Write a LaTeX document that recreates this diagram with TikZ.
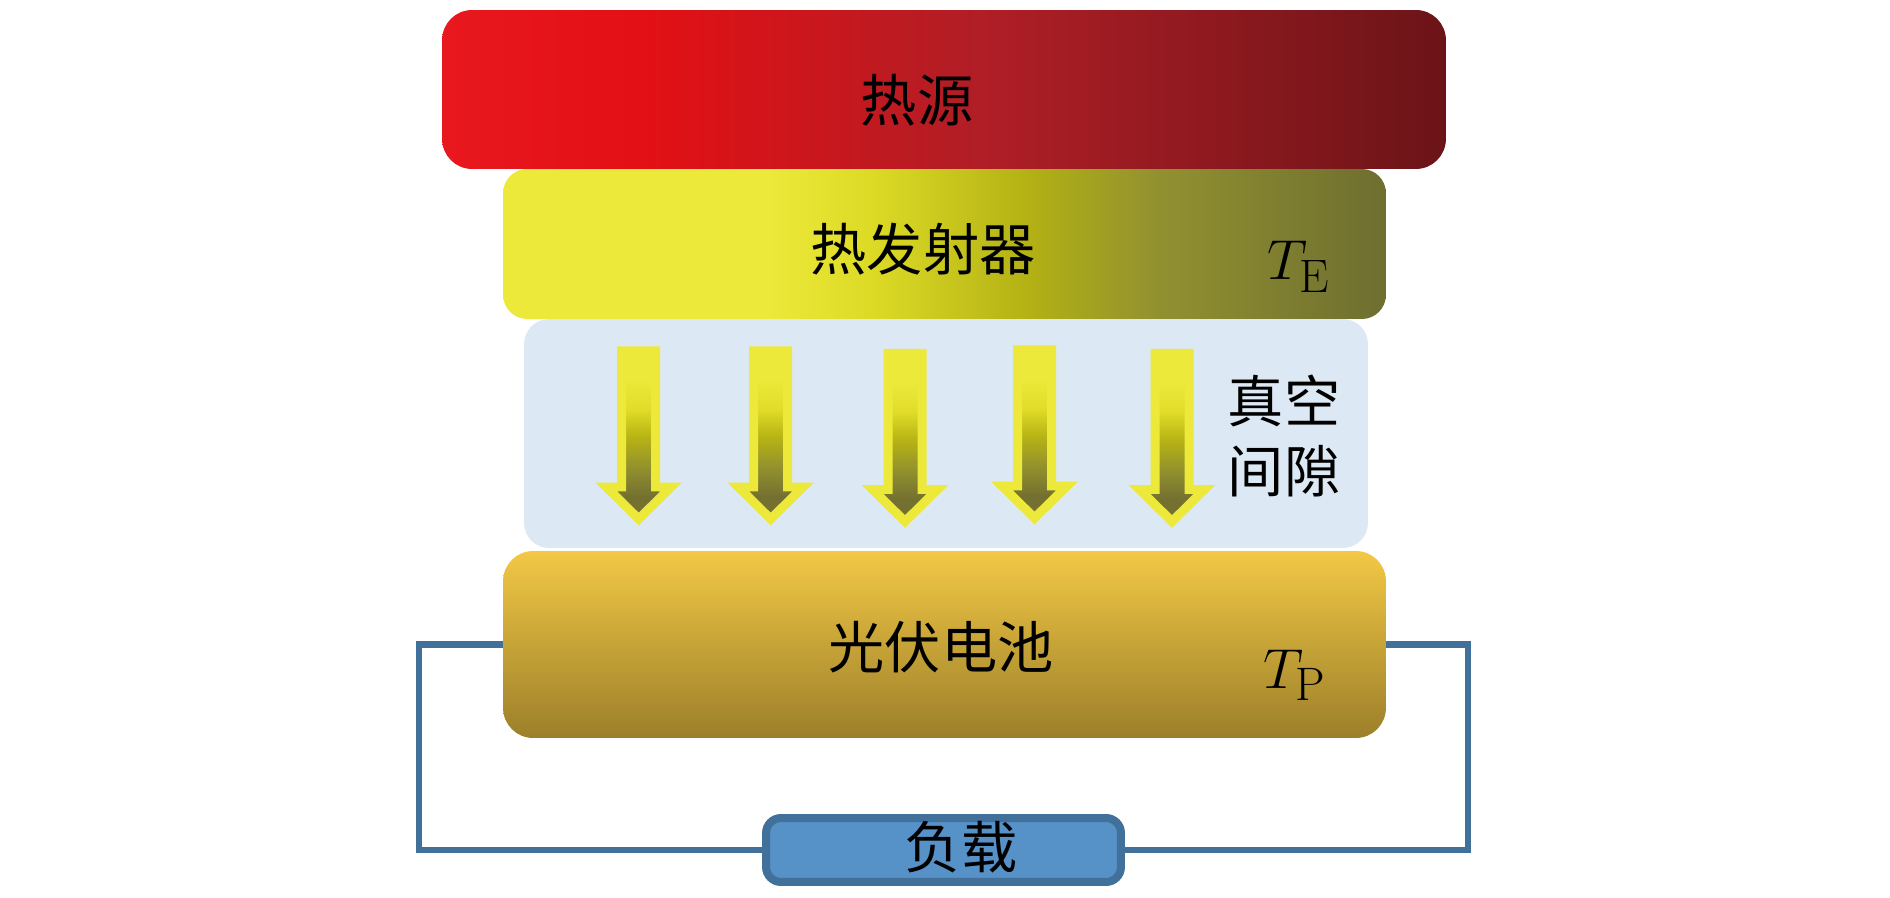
\documentclass[tikz,border=0pt]{standalone}
\usepackage{fontspec}
\newfontfamily\cjk{Noto Sans CJK SC}
\usetikzlibrary{positioning}
\definecolor{srcA}{HTML}{E8181F}
\definecolor{srcB}{HTML}{E31014}
\definecolor{srcC}{HTML}{B01E26}
\definecolor{srcD}{HTML}{6B1418}
\definecolor{emA}{HTML}{EDE93A}
\definecolor{emB}{HTML}{DCDA25}
\definecolor{emC}{HTML}{B2B014}
\definecolor{emD}{HTML}{929130}
\definecolor{emE}{HTML}{6E6E30}
\definecolor{rayB}{HTML}{E0DC28}
\definecolor{rayC}{HTML}{B8B414}
\definecolor{rayD}{HTML}{8F8E2E}
\definecolor{rayE}{HTML}{737030}
\definecolor{gapblue}{HTML}{DCE8F4}
\definecolor{pvtop}{HTML}{F2C845}
\definecolor{pvbot}{HTML}{9C7F2A}
\definecolor{loadfill}{HTML}{5691C8}
\definecolor{wireblue}{HTML}{41709A}
\pgfdeclarehorizontalshading{srcshade}{100bp}{color(0bp)=(srcA); color(25bp)=(srcA); color(35bp)=(srcB); color(52bp)=(srcC); color(75bp)=(srcD); color(100bp)=(srcD)}
\pgfdeclarehorizontalshading{emitshade}{100bp}{color(0bp)=(emA); color(25bp)=(emA); color(40bp)=(emA); color(46bp)=(emB); color(55bp)=(emC); color(62bp)=(emD); color(75bp)=(emE); color(100bp)=(emE)}
\pgfdeclareverticalshading{rayshade}{100bp}{color(0bp)=(rayE); color(25bp)=(rayE); color(31.5bp)=(rayE); color(39.5bp)=(rayD); color(49.5bp)=(rayC); color(57.5bp)=(rayB); color(66.5bp)=(emA); color(100bp)=(emA)}
\tikzset{layer/.style={rectangle,inner sep=0pt,outer sep=0pt}}
\tikzset{ray/.style={draw=emA,line width=0.18cm,miter limit=10,shading=rayshade}}
\tikzset{cjklabel/.style={font=\cjk\fontsize{32}{39.8}\selectfont,inner sep=0pt}}
\tikzset{templabel/.style={font=\Huge,inner sep=0pt,anchor=base}}
\tikzset{wire/.style={draw=wireblue,line width=0.13cm}}

\begin{document}
\begin{tikzpicture}[x=0.02cm,y=-0.02cm]
\useasboundingbox (0,0) rectangle (1890,898);
% layers
\node (src) [layer,rounded corners=0.6cm,shading=srcshade,minimum width=20.08cm,minimum height=3.18cm] at (944,89.5) {};
\node (emit) [layer,rounded corners=0.48cm,shading=emitshade,minimum width=17.66cm,minimum height=3cm] at (944.5,244) {};
\node (gap) [layer,rounded corners=0.5cm,fill=gapblue,minimum width=16.88cm,minimum height=4.58cm] at (946,433.5) {};
\node (pv) [layer,rounded corners=0.6cm,top color=pvtop,bottom color=pvbot,minimum width=17.66cm,minimum height=3.74cm] at (944.5,644.5) {};
\node (load) [layer,rounded corners=0.3cm,fill=loadfill,draw=wireblue,line width=0.16cm,minimum width=7.1cm,minimum height=1.28cm] at (943.5,850) {};
%
\foreach \cx/\dy in {638.7/0,770.7/0,905/2.5,1034.5/-1,1172/2.5}
  \path[ray] (\cx-17,351+\dy) -- (\cx+17,351+\dy) -- (\cx+17,487+\dy) -- (\cx+32.4,487+\dy) -- (\cx,519+\dy) -- (\cx-32.4,487+\dy) -- (\cx-17,487+\dy) -- cycle;
%
\draw[wire] (pv.west) -- ++(-84,0) |- (load.west);
\draw[wire] (pv.east) -- ++(82,0) |- (load.east);
%
\node (srctext) [cjklabel] at (917,100) {热源};
\node (emittext) [cjklabel] at (923,249.5) {热发射器};
\node (gaptext) [cjklabel,align=center] at (1284,436) {真空\\间隙};
\node (pvtext) [cjklabel] at (941,647) {光伏电池};
\node (loadtext) [cjklabel] at (961,847) {负载};
\node (te) [templabel] at (1299,280) {\scalebox{1.29}{$T_\mathrm{E}$}};
\node (tp) [templabel] at (1295,688) {\scalebox{1.29}{$T_\mathrm{P}$}};
\end{tikzpicture}
\end{document}
